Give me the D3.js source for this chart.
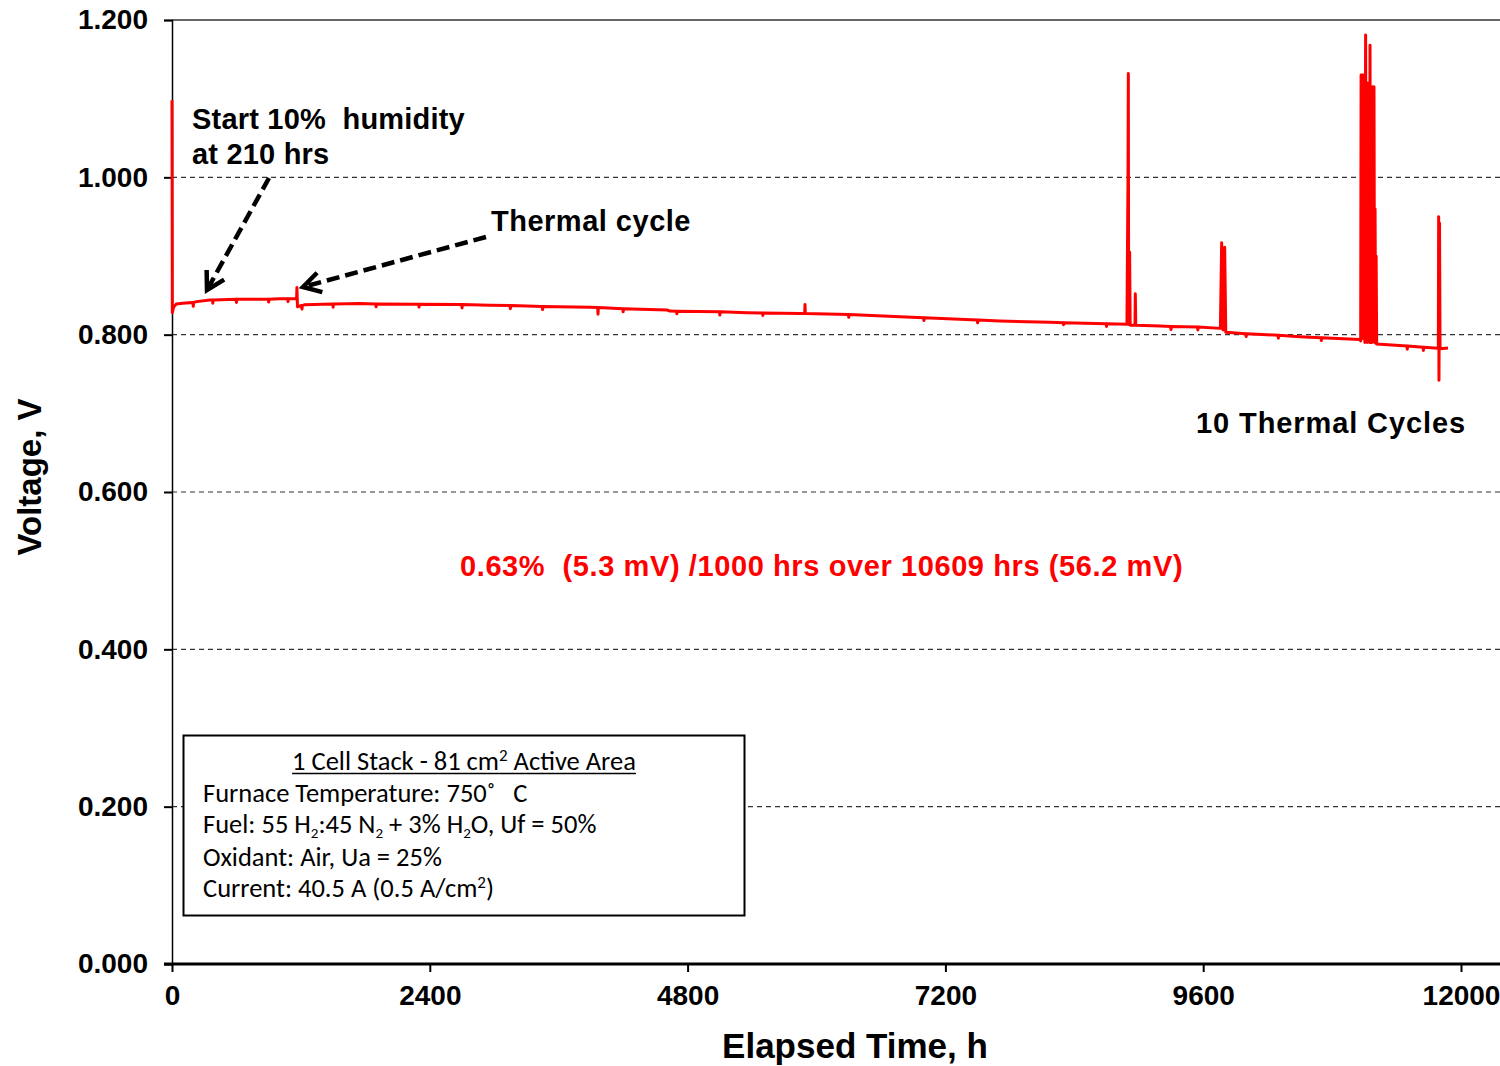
<!DOCTYPE html>
<html>
<head>
<meta charset="utf-8">
<script src="https://cdn.jsdelivr.net/npm/d3@7"></script>
<style>
  html, body { margin: 0; padding: 0; background: #fff; }
  svg { display: block; }
  .tick text { font-family: "Liberation Sans", Arial, sans-serif; font-weight: bold; font-size: 28px; fill: #000; }
</style>
</head>
<body>
<svg id="chart" width="1500" height="1066"></svg>
<script>
// Stack voltage history: elapsed hours and cell voltage (V), including short
// measurement dips and the thermal-cycle excursions
const hours = [
  0, 3, 15, 40, 100, 195, 198, 201, 230, 354, 377, 380, 383, 597, 600, 603, 897, 900, 903, 1000,
  1077, 1080, 1083, 1160, 1163, 1166, 1168, 1207, 1210, 1213, 1230, 1497, 1500, 1503, 1750,
  1897, 1900, 1903, 2297, 2300, 2303, 2681, 2697, 2700, 2703, 2960, 3147, 3150, 3153,
  3447, 3450, 3453, 3891, 3963, 3966, 3969, 4197, 4200, 4203, 4608, 4636, 4697, 4700, 4703,
  5097, 5100, 5103, 5353, 5497, 5500, 5503, 5846, 5890, 5893, 5896, 6297, 6300, 6303, 6777,
  6997, 7000, 7003, 7497, 7500, 7503, 7708, 8173, 8297, 8300, 8303, 8697, 8700, 8703, 8890,
  8900, 8903, 8906, 8915, 8920, 8965, 8968, 8972, 9200, 9297, 9300, 9303, 9547, 9550, 9553,
  9760, 9772, 9785, 9800, 9810, 9997, 10000, 10003, 10297, 10300, 10303, 10500, 10697, 10700, 10703,
  11060,
  11066, 11070, 11075, 11080, 11085, 11090, 11095, 11100, 11105, 11112, 11117, 11122, 11127, 11133, 11138,
  11145, 11150, 11153, 11158, 11165, 11170, 11178, 11183, 11190, 11195, 11200, 11205, 11210, 11215,
  11497, 11500, 11503, 11647, 11650, 11653, 11789, 11792, 11795, 11800, 11805, 11879
];
const volts = [
  1.098, 0.828, 0.835, 0.839, 0.840, 0.841, 0.836, 0.841, 0.842, 0.844, 0.844, 0.840, 0.844, 0.845, 0.841, 0.845, 0.845, 0.8415, 0.845, 0.8455,
  0.8455, 0.842, 0.8455, 0.8455, 0.860, 0.8455, 0.8355, 0.837, 0.8325, 0.837, 0.838, 0.839, 0.835, 0.839, 0.8395,
  0.839, 0.8355, 0.839, 0.8388, 0.835, 0.8388, 0.8385, 0.8384, 0.834, 0.8384, 0.8375, 0.837, 0.833, 0.837,
  0.8358, 0.832, 0.8358, 0.8347, 0.8345, 0.826, 0.8345, 0.833, 0.829, 0.833, 0.8313, 0.830, 0.8298, 0.8265, 0.8298,
  0.829, 0.825, 0.829, 0.828, 0.8275, 0.8245, 0.8275, 0.827, 0.827, 0.8385, 0.827, 0.8255, 0.822, 0.8255, 0.8228,
  0.8215, 0.818, 0.8215, 0.8185, 0.815, 0.8185, 0.8174, 0.8157, 0.8152, 0.8125, 0.8152, 0.814, 0.8105, 0.814, 0.8131,
  1.000, 1.132, 0.813, 0.905, 0.812, 0.812, 0.852, 0.812, 0.811, 0.8105, 0.8065, 0.8105, 0.8097, 0.806, 0.8097,
  0.808, 0.917, 0.806, 0.911, 0.803, 0.8012, 0.7975, 0.8012, 0.7993, 0.7955, 0.7993, 0.7975, 0.7962, 0.7925, 0.7962,
  0.794,
  0.792, 1.130, 0.800, 1.130, 0.795, 1.130, 0.800, 1.100, 0.790, 1.181, 0.800, 1.120, 0.790, 1.120, 0.800,
  1.100, 0.790, 1.168, 0.800, 1.115, 0.790, 1.115, 0.800, 1.115, 0.790, 0.960, 0.789, 0.900, 0.788,
  0.7855, 0.7815, 0.7855, 0.784, 0.780, 0.784, 0.7826, 0.950, 0.742, 0.942, 0.782, 0.783
];

const yTicks = [0, 0.2, 0.4, 0.6, 0.8, 1.0, 1.2];
const xTicks = [0, 2400, 4800, 7200, 9600, 12000];
const gridLevels = [0.2, 0.4, 0.6, 0.8, 1.0];

const svg = d3.select("#chart");
const x = d3.scaleLinear().domain([0, 12000]).range([172, 1461]);
const y = d3.scaleLinear().domain([0, 1.2]).range([964, 20]);
const rightEdge = 1500;

// dashed horizontal gridlines
svg.append("g").selectAll("line").data(gridLevels).join("line")
  .attr("x1", x(0)).attr("x2", rightEdge)
  .attr("y1", d => y(d)).attr("y2", d => y(d))
  .attr("stroke", "#333").attr("stroke-width", 1.2).attr("stroke-dasharray", "5,4");

// top frame line
svg.append("line").attr("x1", x(0)).attr("x2", rightEdge)
  .attr("y1", y(1.2)).attr("y2", y(1.2))
  .attr("stroke", "#666").attr("stroke-width", 2);

// y axis
const yAxis = svg.append("g").attr("transform", `translate(${x(0)},0)`)
  .call(d3.axisLeft(y).tickValues(yTicks).tickFormat(d3.format(".3f")).tickSize(8).tickPadding(16));
yAxis.select(".domain").attr("stroke", "#000").attr("stroke-width", 1.5);
yAxis.selectAll(".tick line").attr("stroke", "#000").attr("stroke-width", 2);

// x axis
const xAxis = svg.append("g").attr("transform", `translate(0,${y(0)})`)
  .call(d3.axisBottom(x).tickValues(xTicks).tickFormat(d3.format("d")).tickSize(8).tickPadding(13));
xAxis.select(".domain").remove();
xAxis.selectAll(".tick line").attr("stroke", "#000").attr("stroke-width", 2);
svg.append("line").attr("x1", 164).attr("x2", rightEdge)
  .attr("y1", y(0)).attr("y2", y(0))
  .attr("stroke", "#000").attr("stroke-width", 3);

// axis titles
svg.append("text")
  .attr("transform", `translate(41,477) rotate(-90)`)
  .attr("text-anchor", "middle")
  .style("font-family", "'Liberation Sans', Arial, sans-serif")
  .style("font-weight", "bold").style("font-size", "33px")
  .text("Voltage, V");
svg.append("text")
  .attr("x", 855).attr("y", 1058)
  .attr("text-anchor", "middle")
  .style("font-family", "'Liberation Sans', Arial, sans-serif")
  .style("font-weight", "bold").style("font-size", "35px")
  .text("Elapsed Time, h");

// voltage trace
const series = hours.map((h, i) => [h, volts[i]]);
svg.append("path").datum(series)
  .attr("fill", "none").attr("stroke", "#ff0000").attr("stroke-width", 3)
  .attr("stroke-linejoin", "round")
  .attr("d", d3.line().x(d => x(d[0])).y(d => y(d[1])));

// annotation text
const boldFont = "'Liberation Sans', Arial, sans-serif";
function label(tx, ty, str, size, spacing, color) {
  svg.append("text").attr("x", tx).attr("y", ty)
    .style("font-family", boldFont).style("font-weight", "bold")
    .style("font-size", size + "px").style("letter-spacing", spacing + "px")
    .style("fill", color || "#000")
    .style("white-space", "pre")
    .text(str);
}
label(192, 129, "Start 10%  humidity", 29, 0.2);
label(192, 164, "at 210 hrs", 29, 0.2);
label(491, 231, "Thermal cycle", 29, 0.5);
label(1196, 433, "10 Thermal Cycles", 29, 0.9);
label(460, 576, "0.63%  (5.3 mV) /1000 hrs over 10609 hrs (56.2 mV)", 29, 0.6, "#ff0000");

// dashed arrows
function arrow(x1, y1, x2, y2) {
  svg.append("line").attr("x1", x1).attr("y1", y1).attr("x2", x2).attr("y2", y2)
    .attr("stroke", "#000").attr("stroke-width", 4.5).attr("stroke-dasharray", "13,6");
  const a = Math.atan2(y2 - y1, x2 - x1);
  const len = 20, spread = Math.PI / 6;
  const p = [
    [x2 - len * Math.cos(a - spread), y2 - len * Math.sin(a - spread)],
    [x2, y2],
    [x2 - len * Math.cos(a + spread), y2 - len * Math.sin(a + spread)]
  ];
  svg.append("path").attr("d", d3.line()(p))
    .attr("fill", "none").attr("stroke", "#000").attr("stroke-width", 4.5)
    .attr("stroke-linejoin", "miter");
}
arrow(269, 178, 207, 290);
arrow(486, 237, 303, 287);

// conditions box
svg.append("rect").attr("x", 183.5).attr("y", 735.5).attr("width", 561).attr("height", 180)
  .attr("fill", "#fff").attr("stroke", "#000").attr("stroke-width", 2);

const boxFont = "Carlito, 'Open Sans', sans-serif";
const bt = svg.append("g").style("font-family", boxFont).style("font-size", "26.5px").style("fill", "#000");
const title = bt.append("text").attr("x", 464).attr("y", 770).attr("text-anchor", "middle");
title.append("tspan").text("1 Cell Stack - 81 cm");
title.append("tspan").attr("dy", -9).style("font-size", "17px").text("2");
title.append("tspan").attr("dy", 9).text(" Active Area");
// continuous underline beneath the whole title
const tb = title.node().getBBox();
bt.append("line").attr("x1", tb.x).attr("x2", tb.x + tb.width)
  .attr("y1", 773.5).attr("y2", 773.5)
  .attr("stroke", "#000").attr("stroke-width", 1.5);

bt.append("text").attr("x", 203).attr("y", 802).style("white-space", "pre").text("Furnace Temperature: 750˚   C");

const fuel = bt.append("text").attr("x", 203).attr("y", 833);
fuel.append("tspan").text("Fuel: 55 H");
fuel.append("tspan").attr("dy", 5).style("font-size", "15px").text("2");
fuel.append("tspan").attr("dy", -5).text(":45 N");
fuel.append("tspan").attr("dy", 5).style("font-size", "15px").text("2");
fuel.append("tspan").attr("dy", -5).text(" + 3% H");
fuel.append("tspan").attr("dy", 5).style("font-size", "15px").text("2");
fuel.append("tspan").attr("dy", -5).text("O, Uf = 50%");

bt.append("text").attr("x", 203).attr("y", 866).text("Oxidant: Air, Ua = 25%");

const cur = bt.append("text").attr("x", 203).attr("y", 897);
cur.append("tspan").text("Current: 40.5 A (0.5 A/cm");
cur.append("tspan").attr("dy", -9).style("font-size", "17px").text("2");
cur.append("tspan").attr("dy", 9).text(")");
</script>
</body>
</html>
